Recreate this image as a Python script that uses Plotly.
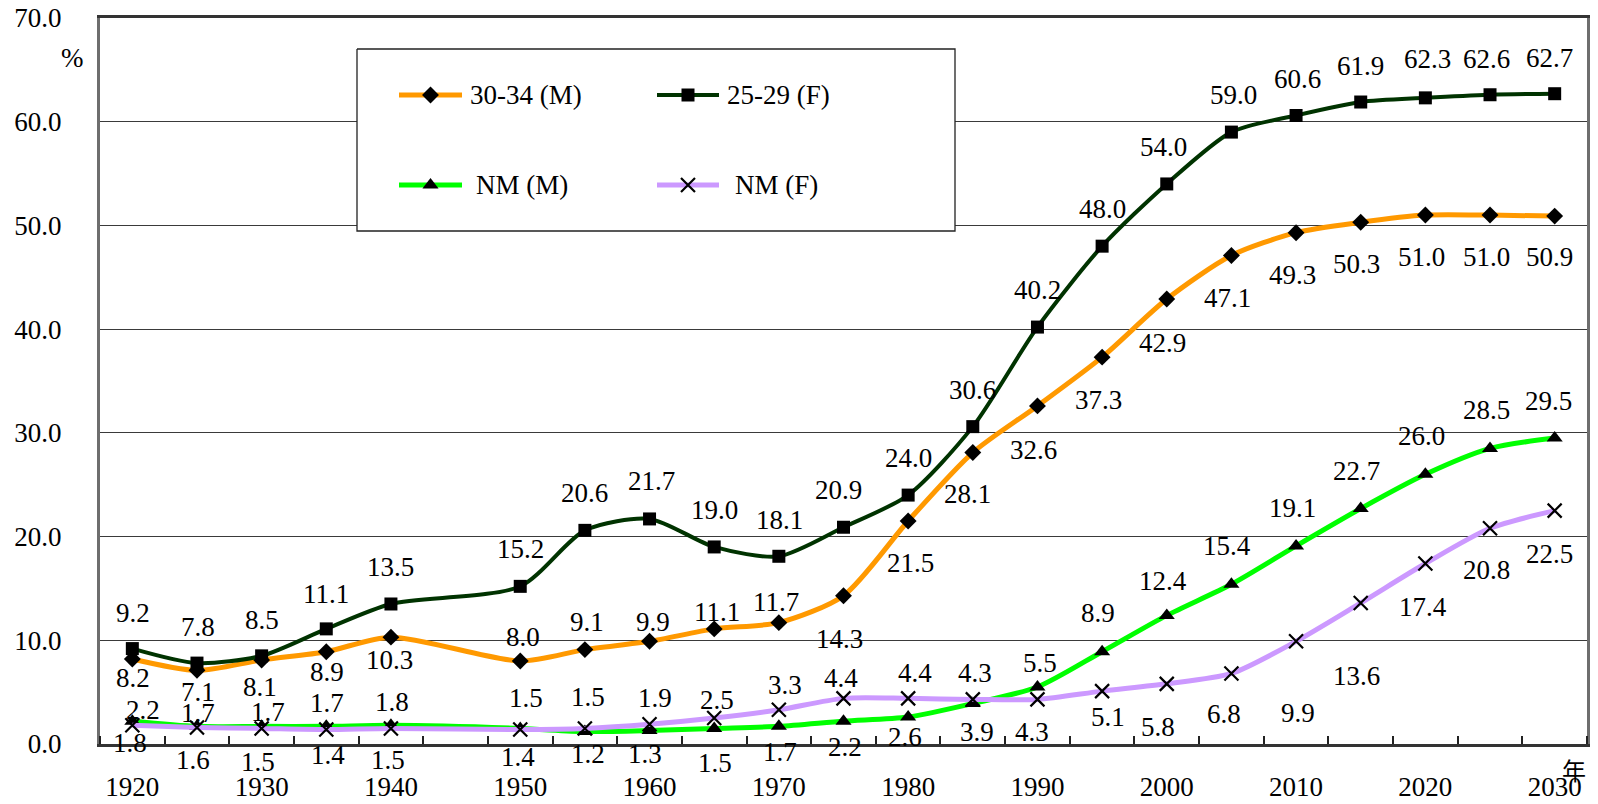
import plotly.graph_objects as go

# ---- data -----------------------------------------------------------------
years = [1920, 1925, 1930, 1935, 1940, 1950, 1955, 1960, 1965, 1970, 1975,
         1980, 1985, 1990, 1995, 2000, 2005, 2010, 2015, 2020, 2025, 2030]

men_30_34 = [8.2, 7.1, 8.1, 8.9, 10.3, 8.0, 9.1, 9.9, 11.1, 11.7, 14.3,
             21.5, 28.1, 32.6, 37.3, 42.9, 47.1, 49.3, 50.3, 51.0, 51.0, 50.9]
women_25_29 = [9.2, 7.8, 8.5, 11.1, 13.5, 15.2, 20.6, 21.7, 19.0, 18.1, 20.9,
               24.0, 30.6, 40.2, 48.0, 54.0, 59.0, 60.6, 61.9, 62.3, 62.6, 62.7]
nm_men = [2.2, 1.7, 1.7, 1.7, 1.8, 1.5, 1.2, 1.3, 1.5, 1.7, 2.2,
          2.6, 3.9, 5.5, 8.9, 12.4, 15.4, 19.1, 22.7, 26.0, 28.5, 29.5]
nm_women = [1.8, 1.6, 1.5, 1.4, 1.5, 1.4, 1.5, 1.9, 2.5, 3.3, 4.4,
            4.4, 4.3, 4.3, 5.1, 5.8, 6.8, 9.9, 13.6, 17.4, 20.8, 22.5]

series_names = ["30-34 (M)", "25-29 (F)", "NM (M)", "NM (F)"]
year_ticks = [1920, 1930, 1940, 1950, 1960, 1970, 1980, 1990, 2000, 2010, 2020, 2030]

# ---- value-label offsets (pixels; dy positive = downwards) ----------------
off_men_30_34 = [(1, 19), (1, 22), (-2, 27), (1, 20), (-1, 23), (3, -24), (2, -28),
                 (3, -19), (3, -17), (-3, -21), (-4, 43), (2, 42), (-5, 41), (-4, 44),
                 (-4, 43), (-4, 44), (-4, 42), (-4, 42), (-4, 42), (-4, 42), (-4, 42),
                 (-5, 41)]
off_women_25_29 = [(1, -36), (1, -36), (0, -36), (0, -35), (0, -37), (0, -37), (0, -37),
                   (2, -38), (0, -37), (1, -36), (-5, -37), (0, -37), (0, -37), (0, -37),
                   (0, -37), (-3, -37), (2, -37), (1, -36), (0, -36), (2, -39), (-4, -36),
                   (-5, -36)]
off_nm_men = [(11, -11), (1, -13), (6, -14), (1, -23), (1, -23), (6, -30), (3, 22),
              (-5, 23), (1, 35), (1, 26), (1, 26), (-3, 20), (4, 28), (3, -24),
              (-4, -39), (-4, -34), (-4, -38), (-4, -38), (-4, -38), (-4, -38),
              (-4, -38), (-6, -37)]
off_nm_women = [(-2, 18), (-4, 33), (-4, 34), (2, 26), (-3, 32), (-2, 28), (3, -31),
                (5, -26), (3, -18), (6, -25), (-3, -20), (7, -25), (2, -26), (-5, 33),
                (6, 26), (-9, 43), (-7, 41), (2, 72), (-4, 73), (-2, 43), (-4, 42),
                (-5, 43)]

# ---- styling ----------------------------------------------------------------
FONT = "Liberation Serif, Times New Roman, serif"
FS = 27
W, H = 1598, 804
PLOT_L, PLOT_R, PLOT_T, PLOT_B = 100, 1587, 18, 744


def px_to_paper(px, py):
    """Convert page pixels to paper fractions of the plotting area."""
    return (px - PLOT_L) / (PLOT_R - PLOT_L), (PLOT_B - py) / (PLOT_B - PLOT_T)


styles = [
    dict(color="#FF9900", width=5, symbol="diamond", size=13),
    dict(color="#003300", width=4, symbol="square", size=13),
    dict(color="#00FF00", width=5, symbol="triangle-up", size=14),
    dict(color="#CC99FF", width=5, symbol="x-thin", size=14),
]
values = [men_30_34, women_25_29, nm_men, nm_women]
offsets = [off_men_30_34, off_women_25_29, off_nm_men, off_nm_women]


def marker_style(st):
    if st["symbol"] == "x-thin":
        return dict(symbol="x-thin", size=st["size"], color="black",
                    line=dict(width=2.2, color="black"))
    return dict(symbol=st["symbol"], size=st["size"], color="black",
                line=dict(width=0))


fig = go.Figure()

for name, vals, st in zip(series_names, values, styles):
    fig.add_trace(go.Scatter(
        x=years, y=vals, name=name, mode="lines+markers",
        line=dict(color=st["color"], width=st["width"], shape="spline", smoothing=0.75),
        marker=marker_style(st), showlegend=False, hoverinfo="skip",
    ))

annotations = []
for vals, offs in zip(values, offsets):
    for yr, v, (dx, dy) in zip(years, vals, offs):
        annotations.append(dict(
            x=yr, y=v, xref="x", yref="y", text=f"{v:.1f}", showarrow=False,
            xshift=dx, yshift=-dy, font=dict(family=FONT, size=FS, color="black"),
        ))

# ---- legend box, drawn in pixel space on an overlay axis pair ------------
leg_box = (357, 49, 955, 231)
leg_rows = [95, 185]
leg_cols = [(399, 462), (657, 719)]
leg_text_x = [[468, 725], [474, 733]]
leg_layout = [(0, 0), (0, 1), (1, 0), (1, 1)]  # (row, col) per series

bx0, by0, bx1, by1 = leg_box
fig.add_trace(go.Scatter(
    x=[bx0, bx1, bx1, bx0, bx0], y=[by0, by0, by1, by1, by0],
    xaxis="x2", yaxis="y2", mode="lines", fill="toself", fillcolor="white",
    line=dict(color="#222222", width=1.3), showlegend=False, hoverinfo="skip"))

for (r, c), name, st in zip(leg_layout, series_names, styles):
    x0, x1 = leg_cols[c]
    yy = leg_rows[r]
    fig.add_trace(go.Scatter(
        x=[x0, x1], y=[yy, yy], xaxis="x2", yaxis="y2", mode="lines",
        line=dict(color=st["color"], width=st["width"]), showlegend=False,
        hoverinfo="skip"))
    fig.add_trace(go.Scatter(
        x=[(x0 + x1) / 2], y=[yy], xaxis="x2", yaxis="y2", mode="markers",
        marker=marker_style(st), showlegend=False, hoverinfo="skip"))
    annotations.append(dict(
        x=leg_text_x[r][c], y=yy, xref="x2", yref="y2", text=name,
        showarrow=False, xanchor="left", yanchor="middle",
        font=dict(family=FONT, size=FS, color="black")))

# unit labels
px, py = px_to_paper(72, 58)
annotations.append(dict(x=px, y=py, xref="paper", yref="paper", text="%", showarrow=False,
                        xanchor="center", yanchor="middle",
                        font=dict(family=FONT, size=FS, color="black")))
px, py = px_to_paper(1574, 769)
annotations.append(dict(x=px, y=py, xref="paper", yref="paper", text="年", showarrow=False,
                        xanchor="center", yanchor="middle",
                        font=dict(family="Noto Sans CJK JP", size=24, color="black")))

fig.update_layout(
    template="none",
    width=W, height=H, autosize=False,
    margin=dict(l=PLOT_L, r=W - PLOT_R, t=PLOT_T, b=H - PLOT_B, pad=0, autoexpand=False),
    paper_bgcolor="white", plot_bgcolor="white",
    font=dict(family=FONT, size=FS, color="black"),
    showlegend=False,
    xaxis=dict(
        range=[1917.5, 2032.5], tickmode="array", tickvals=year_ticks, automargin=False,
        ticks="", ticklabelstandoff=17, showgrid=False, zeroline=False,
        showline=True, linecolor="#333333", linewidth=3, mirror=True,
        tickfont=dict(family=FONT, size=FS, color="black"),
        minor=dict(tick0=1922.5, dtick=5, ticks="inside", ticklen=8,
                   tickcolor="#222222", tickwidth=1.5, showgrid=False),
    ),
    yaxis=dict(
        range=[0, 70], dtick=10, tick0=0, tickformat=".1f", ticks="", automargin=False,
        ticklabelstandoff=30, showgrid=True, gridcolor="#3a3a3a", gridwidth=1,
        zeroline=False, showline=True, linecolor="#6e6e6e", linewidth=3, mirror=True,
        tickfont=dict(family=FONT, size=FS, color="black"),
    ),
    xaxis2=dict(overlaying="x", anchor="y2", range=[PLOT_L, PLOT_R], visible=False,
                showgrid=False, zeroline=False),
    yaxis2=dict(overlaying="y", anchor="x2", range=[PLOT_B, PLOT_T], visible=False,
                showgrid=False, zeroline=False),
    annotations=annotations,
)

fig.write_html("out.html")
